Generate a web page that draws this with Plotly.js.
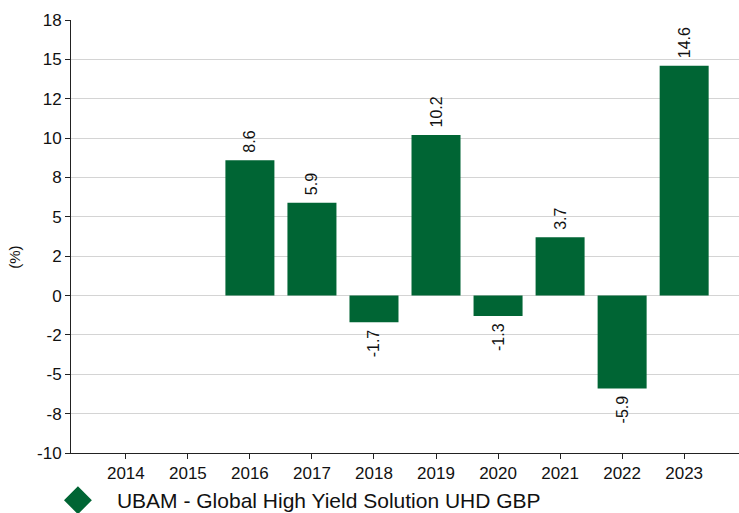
<!DOCTYPE html>
<html>
<head>
<meta charset="utf-8">
<script src="https://cdn.plot.ly/plotly-3.0.1.min.js"></script>
<style>
  html, body { margin: 0; padding: 0; background: #fff; }
  #chart { width: 739px; height: 513px; }
</style>
</head>
<body>
<div id="chart"></div>
<script>
const years = ['2014','2015','2016','2017','2018','2019','2020','2021','2022','2023'];
const returns = [null, null, 8.6, 5.9, -1.7, 10.2, -1.3, 3.7, -5.9, 14.6];
const labels = ['', '', '8.6', '5.9', '-1.7', '10.2', '-1.3', '3.7', '-5.9', '14.6'];
const seriesName = 'UBAM - Global High Yield Solution UHD GBP';
const yTickVals = [-10, -7.5, -5, -2.5, 0, 2.5, 5, 7.5, 10, 12.5, 15, 17.5];
const yTickText = ['-10', '-8', '-5', '-2', '0', '2', '5', '8', '10', '12', '15', '18'];

const green = '#006534';
const font = 'Liberation Sans, Arial, sans-serif';
const NB = '\u00a0';

// pad labels on the side facing the bar (text is rotated, reading bottom to top)
const paddedLabels = labels.map((t, i) => {
  if (!t) return t;
  return returns[i] >= 0 ? NB + t : t + NB;
});

const traces = [
  {
    type: 'bar',
    x: years,
    y: returns,
    text: paddedLabels,
    textposition: 'outside',
    textangle: -90,
    cliponaxis: false,
    textfont: {family: font, size: 16, color: '#111'},
    marker: {color: green},
    width: 0.79,
    showlegend: false,
    hoverinfo: 'x+y'
  },
  {
    type: 'scatter',
    mode: 'markers',
    x: [null],
    y: [null],
    name: seriesName,
    marker: {symbol: 'diamond', color: green, size: 20, line: {color: green, width: 5}},
    showlegend: true
  }
];

const layout = {
  width: 739,
  height: 513,
  margin: {l: 71, r: 0, t: 20, b: 60, autoexpand: false},
  paper_bgcolor: '#fff',
  plot_bgcolor: '#fff',
  font: {family: font, size: 17, color: '#111'},
  showlegend: true,
  legend: {
    orientation: 'h',
    x: -0.048,
    xanchor: 'left',
    y: -0.11,
    yanchor: 'middle',
    font: {family: font, size: 21, color: '#111'},
    itemwidth: 68,
    bgcolor: 'rgba(0,0,0,0)'
  },
  xaxis: {
    type: 'category',
    range: [-0.884, 9.884],
    showgrid: false,
    showline: true,
    linecolor: '#222',
    linewidth: 1,
    ticks: 'outside',
    ticklen: 5,
    tickcolor: '#222',
    tickfont: {family: font, size: 17, color: '#111'},
    zeroline: false,
    fixedrange: true
  },
  yaxis: {
    range: [-10, 17.5],
    tickmode: 'array',
    tickvals: yTickVals,
    ticktext: yTickText,
    showgrid: true,
    gridcolor: '#d4d4d4',
    gridwidth: 1,
    showline: true,
    linecolor: '#222',
    linewidth: 1,
    ticks: 'outside',
    ticklen: 5,
    tickcolor: '#222',
    tickfont: {family: font, size: 17, color: '#111'},
    zeroline: false,
    fixedrange: true
  },
  annotations: [
    {
      text: '(%)',
      xref: 'paper', yref: 'paper',
      x: -0.084, y: 0.453,
      xanchor: 'center', yanchor: 'middle',
      showarrow: false,
      textangle: -90,
      font: {family: font, size: 15, color: '#111'}
    }
  ]
};

Plotly.newPlot('chart', traces, layout, {displayModeBar: false, staticPlot: true});
</script>
</body>
</html>
